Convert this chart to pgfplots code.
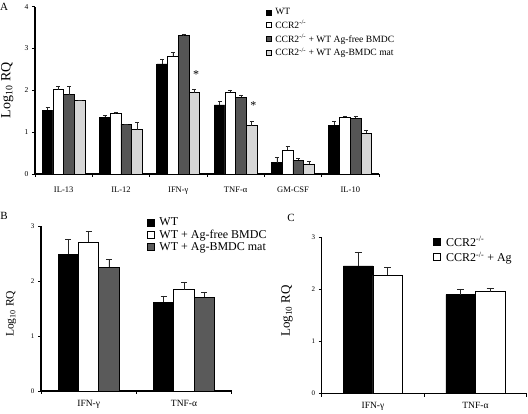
\documentclass[border=0pt]{standalone}
\usepackage{fontspec}
\setmainfont{Liberation Serif}
\usepackage{pgfplots}
\pgfplotsset{compat=1.18}
\usepackage{pgfplotstable}

\definecolor{dgray}{HTML}{555555}
\definecolor{lgray}{HTML}{D6D6D6}
\definecolor{bgray}{HTML}{5A5A5A}

% Panel A
\pgfplotstableread{
x wt wte ccr ccre free freee mat mate
0 1.52 0.07 2.02 0.08 1.89 0.21 1.76 0.01
1 1.36 0.04 1.45 0.02 1.19 0.01 1.06 0.17
2 2.63 0.12 2.81 0.10 3.31 0.03 1.94 0.08
3 1.65 0.10 1.96 0.05 1.84 0.03 1.15 0.12
4 0.27 0.13 0.57 0.09 0.33 0.04 0.24 0.06
5 1.17 0.09 1.36 0.03 1.33 0.05 0.97 0.08
}\dataA
% Panel B
\pgfplotstableread{
x wt wte free freee mat mate
0 2.49 0.27 2.70 0.21 2.25 0.14
1 1.61 0.12 1.84 0.13 1.70 0.09
}\dataB
% Panel C
\pgfplotstableread{
x ccr ccre ag age
0 2.45 0.27 2.27 0.15
1 1.90 0.11 1.96 0.07
}\dataC

\pgfplotsset{
  panel/.style={
    scale only axis,
    axis lines*=left,
    axis line style={line width=1.1pt,-},
    tick align=outside,
    ymin=0,
    major tick length=3pt,
    minor tick length=3pt,
    tick style={line width=0.6pt,black},
    major x tick style={draw=none},
    /pgf/number format/assume math mode=true,
    ybar=0pt,
    legend cell align=left,
    legend style={draw=none,fill=none,inner sep=0pt,outer sep=0pt},
  },
  eb/.style={
    error bars/.cd, y dir=plus, y explicit,
    error bar style={line width=0.6pt,black!85},
    error mark=-,
    error mark options={rotate=90,line width=0.6pt,black!85,mark size=#1},
  },
}

\begin{document}
\begin{tikzpicture}
\useasboundingbox (0pt,0pt) rectangle (528pt,414pt);

% ---------------- Panel A ----------------
\begin{axis}[panel,
  at={(35pt,240pt)}, anchor=south west,
  width=344pt, height=167.3pt,
  xmin=-0.5, xmax=5.5, ymax=4,
  ytick={0,1,2,3,4},
  yticklabel style={font=\fontsize{7.5}{8}\selectfont},
  xtick={0,1,2,3,4,5},
  xticklabels={IL-13,IL-12,IFN-γ,TNF-α,GM-CSF,IL-10},
  xticklabel style={font=\fontsize{8.5}{9}\selectfont, yshift=-6pt},
  minor xtick={-0.5,0.5,1.5,2.5,3.5,4.5,5.5},
  bar width=10.7pt,
  ylabel={Log\textsubscript{10} RQ},
  ylabel style={at={(axis description cs:-0.081,0.50)}, anchor=center, font=\fontsize{14}{15}\selectfont},
  legend style={at={(axis description cs:0.672,1.0)}, anchor=north west,
    font=\fontsize{9.6}{10}\selectfont, row sep=0pt,
    /tikz/every odd column/.style={column sep=1.5pt}},
  legend image code/.code={\draw[#1,line width=0.6pt] (0pt,-2.5pt) rectangle (5pt,2.5pt);},
]
\addplot[fill=black,draw=black,line width=0.9pt,eb=2pt] table[x=x,y=wt,y error=wte]{\dataA};
\addplot[fill=white,draw=black,line width=0.9pt,eb=2pt] table[x=x,y=ccr,y error=ccre]{\dataA};
\addplot[fill=dgray,draw=black,line width=0.9pt,eb=2pt] table[x=x,y=free,y error=freee]{\dataA};
\addplot[fill=lgray,draw=black,line width=0.9pt,eb=2pt] table[x=x,y=mat,y error=mate]{\dataA};
\legend{WT, CCR2\textsuperscript{-/-}, CCR2\textsuperscript{-/-} + WT Ag-free BMDC, CCR2\textsuperscript{-/-} + WT Ag-BMDC mat}
\node[font=\fontsize{12}{12}\selectfont] at (axis cs:2.31,2.37) {*};
\node[font=\fontsize{12}{12}\selectfont] at (axis cs:3.31,1.64) {*};
\end{axis}
\node[font=\fontsize{11}{11}\selectfont] at (4pt,407.5pt) {A};

% ---------------- Panel B ----------------
\begin{axis}[panel,
  at={(41pt,23pt)}, anchor=south west,
  width=190.7pt, height=165pt,
  xmin=-0.5, xmax=1.5, ymax=3,
  ytick={0,1,2,3},
  yticklabel style={font=\fontsize{7}{8}\selectfont},
  xtick={0,1},
  xticklabels={IFN-γ,TNF-α},
  xticklabel style={font=\fontsize{9.5}{10}\selectfont, yshift=-3pt},
  minor xtick={-0.5,0.5,1.5},
  bar width=20.3pt,
  ylabel={Log\textsubscript{10} RQ},
  ylabel style={at={(axis description cs:-0.157,0.467)}, anchor=center, font=\fontsize{11.5}{12}\selectfont},
  legend style={at={(axis description cs:0.556,1.06)}, anchor=north west,
    font=\fontsize{12}{13}\selectfont, row sep=-1.5pt,
    /tikz/every odd column/.style={column sep=3pt}},
  legend image code/.code={\draw[#1,line width=0.8pt] (0pt,-3.3pt) rectangle (6.6pt,3.3pt);},
]
\addplot[fill=black,draw=black,line width=0.9pt,eb=3pt] table[x=x,y=wt,y error=wte]{\dataB};
\addplot[fill=white,draw=black,line width=0.9pt,eb=3pt] table[x=x,y=free,y error=freee]{\dataB};
\addplot[fill=bgray,draw=black,line width=0.9pt,eb=3pt] table[x=x,y=mat,y error=mate]{\dataB};
\legend{WT, WT + Ag-free BMDC, WT + Ag-BMDC mat}
\end{axis}
\node[font=\fontsize{11}{11}\selectfont] at (4pt,198pt) {B};

% ---------------- Panel C ----------------
\begin{axis}[panel,
  at={(321.7pt,20.3pt)}, anchor=south west,
  width=205pt, height=156.4pt,
  xmin=-0.5, xmax=1.5, ymax=3,
  ytick={0,1,2,3},
  yticklabel style={font=\fontsize{7}{8}\selectfont},
  xtick={0,1},
  xticklabels={IFN-γ,TNF-α},
  xticklabel style={font=\fontsize{9.5}{10}\selectfont, yshift=-2pt},
  minor xtick={-0.5,0.5,1.5},
  bar width=29.5pt,
  ylabel={Log\textsubscript{10} RQ},
  ylabel style={at={(axis description cs:-0.169,0.529)}, anchor=center, font=\fontsize{13}{14}\selectfont},
  legend style={at={(axis description cs:0.545,1.017)}, anchor=north west,
    font=\fontsize{12}{13}\selectfont, row sep=0pt,
    /tikz/every odd column/.style={column sep=3pt}},
  legend image code/.code={\draw[#1,line width=0.8pt] (0pt,-3.5pt) rectangle (7pt,3.5pt);},
]
\addplot[fill=black,draw=black,line width=0.9pt,eb=3.5pt] table[x=x,y=ccr,y error=ccre]{\dataC};
\addplot[fill=white,draw=black,line width=0.9pt,eb=3.5pt] table[x=x,y=ag,y error=age]{\dataC};
\legend{CCR2\textsuperscript{-/-}, CCR2\textsuperscript{-/-} + Ag}
\end{axis}
\node[font=\fontsize{11}{11}\selectfont] at (291pt,196pt) {C};
\end{tikzpicture}
\end{document}
